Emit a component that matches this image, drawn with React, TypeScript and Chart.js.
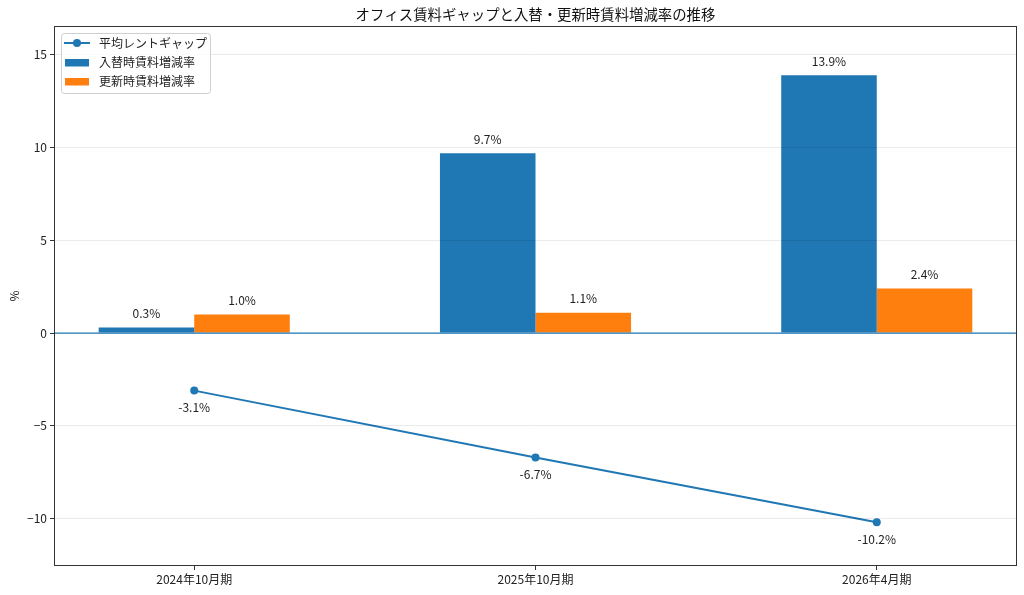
import { useEffect, useRef } from 'react';
import { Chart, registerables } from 'chart.js';

Chart.register(...registerables);

const categories = ['2024年10月期', '2025年10月期', '2026年4月期'];
const rentGap = [-3.1, -6.7, -10.2];
const replaceRate = [0.3, 9.7, 13.9];
const renewRate = [1.0, 1.1, 2.4];
const yTicks = [-10, -5, 0, 5, 10, 15];

const title = 'オフィス賃料ギャップと入替・更新時賃料増減率の推移';
const legendLabels = ['平均レントギャップ', '入替時賃料増減率', '更新時賃料増減率'];

const BLUE = '#1f77b4';
const ORANGE = '#ff7f0e';
const FONT = '"Noto Sans CJK JP", "Noto Sans", sans-serif';

const decorPlugin = {
  id: 'decor',
  afterDatasetsDraw(chart: any) {
    const { ctx, chartArea } = chart;
    ctx.save();
    ctx.font = `12px ${FONT}`;
    ctx.fillStyle = '#222';
    ctx.textAlign = 'center';
    ctx.textBaseline = 'alphabetic';
    [1, 2].forEach((di) => {
      const meta = chart.getDatasetMeta(di);
      const vals = chart.data.datasets[di].data as any[];
      meta.data.forEach((bar: any, i: number) => {
        ctx.fillText(`${vals[i].y.toFixed(1)}%`, bar.x, bar.y - 9.5);
      });
    });
    const lineMeta = chart.getDatasetMeta(0);
    lineMeta.data.forEach((pt: any, i: number) => {
      ctx.fillText(`${rentGap[i].toFixed(1)}%`, pt.x, pt.y + 21.5);
    });

    // title
    ctx.font = `14.4px ${FONT}`;
    ctx.fillStyle = '#111';
    ctx.textBaseline = 'middle';
    ctx.fillText(title, (chartArea.left + chartArea.right) / 2, 15);

    // y label
    ctx.save();
    ctx.translate(14, (chartArea.top + chartArea.bottom) / 2);
    ctx.rotate(-Math.PI / 2);
    ctx.font = `12px ${FONT}`;
    ctx.fillText('%', 0, 0);
    ctx.restore();
    ctx.restore();
  },
  afterDraw(chart: any) {
    const { ctx, chartArea, scales } = chart;
    ctx.save();

    // zero line
    const y0 = scales.y.getPixelForValue(0);
    ctx.strokeStyle = BLUE;
    ctx.lineWidth = 1.2;
    ctx.beginPath();
    ctx.moveTo(chartArea.left, y0);
    ctx.lineTo(chartArea.right, y0);
    ctx.stroke();

    // frame
    ctx.strokeStyle = '#333';
    ctx.lineWidth = 1;
    ctx.strokeRect(
      Math.round(chartArea.left) - 0.5,
      Math.round(chartArea.top) - 0.5,
      Math.round(chartArea.right - chartArea.left) + 1,
      Math.round(chartArea.bottom - chartArea.top) + 1
    );

    // legend
    const lx = 61, ly = 33, lw = 149, lh = 60;
    ctx.fillStyle = 'rgba(255,255,255,0.8)';
    ctx.strokeStyle = '#d0d0d0';
    ctx.beginPath();
    ctx.roundRect(lx + 0.5, ly + 0.5, lw, lh, 3);
    ctx.fill();
    ctx.stroke();

    ctx.strokeStyle = BLUE;
    ctx.lineWidth = 2;
    ctx.beginPath();
    ctx.moveTo(64, 43);
    ctx.lineTo(90, 43);
    ctx.stroke();
    ctx.fillStyle = BLUE;
    ctx.beginPath();
    ctx.arc(77, 43, 4, 0, Math.PI * 2);
    ctx.fill();
    ctx.fillRect(65, 59, 24, 7.5);
    ctx.fillStyle = ORANGE;
    ctx.fillRect(65, 78, 24, 7.5);

    ctx.fillStyle = '#222';
    ctx.font = `12px ${FONT}`;
    ctx.textAlign = 'left';
    ctx.textBaseline = 'middle';
    [43, 62, 81].forEach((yy, i) => ctx.fillText(legendLabels[i], 99, yy));
    ctx.restore();
  },
};

export default function App() {
  const canvasRef = useRef<HTMLCanvasElement>(null);

  useEffect(() => {
    if (!canvasRef.current) return;
    document.body.style.margin = '0';
    const chart = new Chart(canvasRef.current, {
      type: 'bar',
      data: {
        datasets: [
          {
            type: 'line',
            label: legendLabels[0],
            data: rentGap.map((v, i) => ({ x: i, y: v })),
            borderColor: BLUE,
            backgroundColor: BLUE,
            borderWidth: 2,
            pointRadius: 4,
            pointHoverRadius: 4,
            pointBorderWidth: 0,
            order: 0,
          } as any,
          {
            type: 'bar',
            label: legendLabels[1],
            data: replaceRate.map((v, i) => ({ x: i, y: v })),
            backgroundColor: BLUE,
            borderWidth: 0,
            order: 1,
          },
          {
            type: 'bar',
            label: legendLabels[2],
            data: renewRate.map((v, i) => ({ x: i, y: v })),
            backgroundColor: ORANGE,
            borderWidth: 0,
            order: 1,
          },
        ],
      },
      options: {
        animation: false,
        responsive: true,
        maintainAspectRatio: false,
        events: [],
        datasets: {
          bar: { categoryPercentage: 0.56, barPercentage: 1, grouped: true },
        } as any,
        layout: { padding: { top: 27, right: 8, left: 0, bottom: 0 } },
        plugins: {
          legend: { display: false },
          title: { display: false },
          tooltip: { enabled: false },
        },
        scales: {
          x: {
            type: 'linear',
            min: -0.408,
            max: 2.408,
            offset: false,
            afterBuildTicks: (axis: any) => {
              axis.ticks = categories.map((_, i) => ({ value: i }));
            },
            afterFit: (axis: any) => {
              axis.height = 30;
            },
            ticks: {
              color: '#222',
              font: { family: FONT, size: 12 },
              padding: 2,
              maxRotation: 0,
              autoSkip: false,
              callback: (v: any) => categories[Number(v)] ?? '',
            },
            grid: {
              display: true,
              offset: false,
              drawOnChartArea: false,
              drawTicks: true,
              tickLength: 5,
              tickColor: '#333',
            },
            border: { display: false },
          },
          y: {
            type: 'linear',
            min: -12.5,
            max: 16.5,
            afterBuildTicks: (axis: any) => {
              axis.ticks = yTicks.map((v) => ({ value: v }));
            },
            afterFit: (axis: any) => {
              axis.width = 55;
            },
            ticks: {
              color: '#222',
              font: { family: FONT, size: 12 },
              padding: 3,
              includeBounds: false,
              callback: (v: any) => (Number(v) < 0 ? '\u2212' + Math.abs(Number(v)) : String(v)),
            },
            grid: {
              color: 'rgba(0,0,0,0.08)',
              tickColor: '#333',
              tickLength: 5,
              z: 1,
            },
            border: { display: false },
          },
        },
      },
      plugins: [decorPlugin],
    });
    return () => chart.destroy();
  }, []);

  return (
    <div style={{ position: 'absolute', left: 0, top: 0, width: 1024, height: 595, background: '#fff' }}>
      <canvas ref={canvasRef} />
    </div>
  );
}
